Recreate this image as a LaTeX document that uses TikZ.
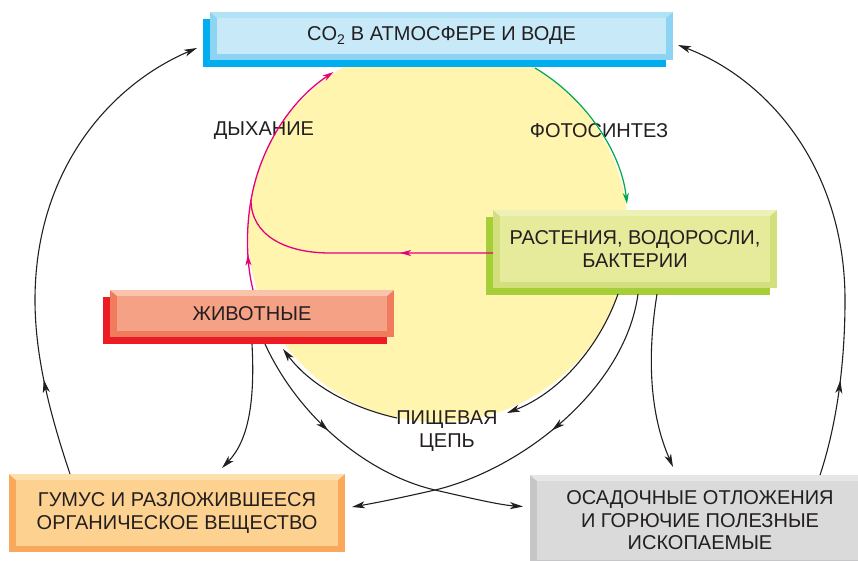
\documentclass[tikz,border=0pt]{standalone}
\usepackage{fontspec}
\setmainfont{Liberation Sans}
\usetikzlibrary{arrows.meta,backgrounds,decorations.markings}

\definecolor{ink}{HTML}{231F20}
\definecolor{sun}{HTML}{FFF5AF}
\definecolor{breathcol}{HTML}{E5007D}
\definecolor{photocol}{HTML}{00A651}
% box colours: face, light (top bevel), dark (other bevels), shadow
\definecolor{blueFace}{HTML}{C7E9F8}
\definecolor{blueLight}{HTML}{B2E2F6}
\definecolor{blueDark}{HTML}{8DD4F2}
\definecolor{blueShadow}{HTML}{00AEEF}
\definecolor{greenFace}{HTML}{E6EA9B}
\definecolor{greenLight}{HTML}{EEF1B5}
\definecolor{greenDark}{HTML}{D3DE7C}
\definecolor{greenShadow}{HTML}{A6CE39}
\definecolor{redFace}{HTML}{F5A185}
\definecolor{redLight}{HTML}{F9C3AC}
\definecolor{redDark}{HTML}{F07B5D}
\definecolor{redShadow}{HTML}{ED1C24}
\definecolor{orangeFace}{HTML}{FDD190}
\definecolor{orangeLight}{HTML}{FEDFAE}
\definecolor{orangeDark}{HTML}{F9A85C}
\definecolor{greyFace}{HTML}{DADADB}
\definecolor{greyLight}{HTML}{E6E6E7}
\definecolor{greyDark}{HTML}{C6C6C8}

% drop shadow behind a box node
\newcommand\boxshadow[2]{%
  \fill[#2] ([shift={(-7,7)}]#1.north west) rectangle ([shift={(-7,7)}]#1.south east);}
% bevelled face of a box node: #2 face, #3 top bevel, #4 side bevels
\newcommand\boxbevel[4]{%
  \fill[#4] (#1.north west) rectangle (#1.south east);
  \fill[#3] (#1.north west) -- (#1.north east) -- ([shift={(-7,6)}]#1.north east)
            -- ([shift={(7,6)}]#1.north west) -- cycle;
  \fill[#2] ([shift={(7,6)}]#1.north west) rectangle ([shift={(-7,-6)}]#1.south east);}

\tikzset{
  blacktip/.tip={Stealth[length=13pt,width=7pt,inset=3.5pt]},
  pinktip/.tip={Stealth[length=11pt,width=6pt,inset=3pt]},
}

\begin{document}
\begin{tikzpicture}[x=1pt,y=-1pt,
  every node/.style={text=ink,font=\fontsize{20}{22.5}\selectfont},
  boxnode/.style={inner sep=0pt,outer sep=0pt,align=center},
  label/.style={align=center,inner sep=1pt},
  conn/.style={draw=ink,line width=1.1pt,-blacktip},
  midarrow/.style={postaction={decorate},
    decoration={markings,mark=at position #1 with {\arrow{blacktip}}}},
  breath/.style={draw=breathcol,line width=1.3pt},
  pinkmid/.style={postaction={decorate},
    decoration={markings,mark=at position #1 with {\arrow{pinktip}}}},
  photo/.style={draw=photocol,line width=1.2pt,-pinktip},
]
\useasboundingbox (0,0) rectangle (858,560);

% boxes
\node[boxnode,minimum width=463pt,minimum height=48pt] (co2) at (441.5,36)
  {CO\textsubscript{2} В АТМОСФЕРЕ И ВОДЕ};
\node[boxnode,minimum width=284pt,minimum height=78pt] (plants) at (635,249)
  {РАСТЕНИЯ, ВОДОРОСЛИ,\\БАКТЕРИИ};
\node[boxnode,minimum width=284pt,minimum height=47pt] (animals) at (252,313.5)
  {ЖИВОТНЫЕ};
\node[boxnode,minimum width=336pt,minimum height=78pt] (humus) at (177,513)
  {ГУМУС И РАЗЛОЖИВШЕЕСЯ\\ОРГАНИЧЕСКОЕ ВЕЩЕСТВО};
\node[boxnode,minimum width=340pt,minimum height=91pt] (sed) at (700,520.5)
  {ОСАДОЧНЫЕ ОТЛОЖЕНИЯ\\И ГОРЮЧИЕ ПОЛЕЗНЫЕ\\ИСКОПАЕМЫЕ};

% process labels
\node[label] (resp) at (264,131) {ДЫХАНИЕ};
\node[label] (photosyn) at (599,131) {ФОТОСИНТЕЗ};
\node[label] (chain) at (447,431) {ПИЩЕВАЯ\\ЦЕПЬ};

\begin{scope}[on background layer]
  \fill[sun] (438,232) circle[radius=190pt];
  \boxshadow{co2}{blueShadow}
  \boxbevel{co2}{blueFace}{blueLight}{blueDark}
  \boxshadow{plants}{greenShadow}
  \boxbevel{plants}{greenFace}{greenLight}{greenDark}
  \boxshadow{animals}{redShadow}
  \boxbevel{animals}{redFace}{redLight}{redDark}
  \boxbevel{humus}{orangeFace}{orangeLight}{orangeDark}
  \boxbevel{sed}{greyFace}{greyLight}{greyDark}
\end{scope}

% respiration (magenta)
\coordinate (merge) at (251,200);
\draw[breath,pinkmid=93pt,-pinktip] ([shift={(0,4)}]plants.west) -- (330,253)
  .. controls (285,253) and (251,235) .. (merge)
  .. controls (260,148) and (290,101) .. ([shift={(-108,12)}]co2.south);
\draw[breath,pinkmid=36pt] ([xshift=1pt]animals.north)
  .. controls (246,262) and (246,228) .. (merge);

% photosynthesis (green)
\draw[photo] ([shift={(93.5,8)}]co2.south)
  .. controls (584,97) and (621,150) .. ([shift={(-8,-6)}]plants.north);

% food chain
\draw[conn] ([shift={(-17,6)}]plants.south)
  .. controls (600,345) and (561,392) .. ([shift={(60,-18)}]chain.center);
\draw[conn] ([shift={(-50,-13)}]chain.center)
  .. controls (352,408) and (311,386) .. ([shift={(31,12)}]animals.south);

% return of carbon to the atmosphere
\draw[conn,midarrow=98pt] ([xshift=-107pt]humus.north)
  .. controls (52,420) and (35,360) .. (35,300)
  .. controls (35,170) and (110,85) .. ([shift={(-13,12)}]co2.west);
\draw[conn,midarrow=97pt] ([xshift=120pt]sed.north)
  .. controls (835,430) and (845,370) .. (845,300)
  .. controls (845,170) and (770,80) .. ([shift={(5,9)}]co2.east);

% dead matter and deposits
\draw[conn] ([shift={(22,6)}]plants.south)
  .. controls (648,350) and (648,410) .. ([shift={(-27,-8)}]sed.north);
\draw[conn,midarrow=165pt] ([shift={(3,6)}]plants.south)
  .. controls (625,390) and (520,470) .. (435,490)
  .. controls (400,498) and (375,503) .. ([shift={(7,-6)}]humus.east);
\draw[conn,midarrow=108pt] ([shift={(13,7)}]animals.south)
  .. controls (300,420) and (370,475) .. (435,490)
  .. controls (470,498) and (500,505) .. ([shift={(-7,-14)}]sed.west);
\draw[conn] ([shift={(0,7)}]animals.south)
  .. controls (255,400) and (249,440) .. ([shift={(45,-6)}]humus.north);
\end{tikzpicture}
\end{document}
